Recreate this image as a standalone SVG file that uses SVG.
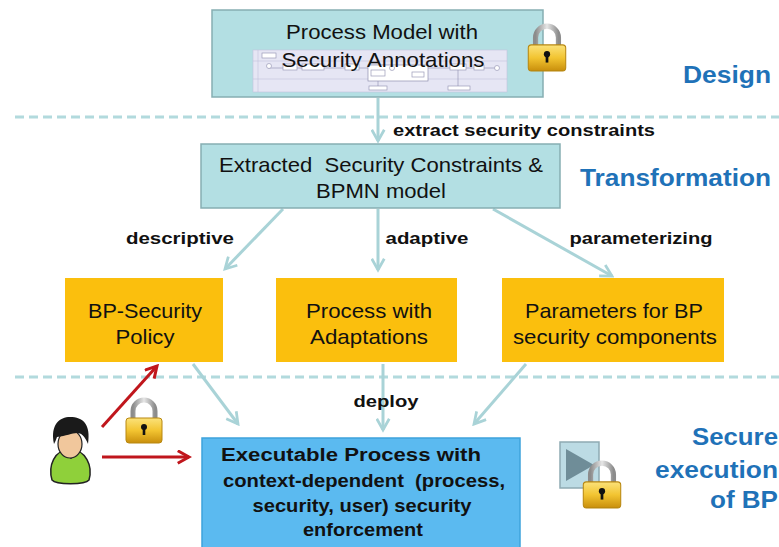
<svg xmlns="http://www.w3.org/2000/svg" xmlns:xlink="http://www.w3.org/1999/xlink" width="779" height="547" viewBox="0 0 779 547">
  <style>
    .teal { fill: #b3dfe3; stroke: #86aeb2; stroke-width: 1.5; }
    .orange { fill: #fbbf0d; }
    .exec { fill: #5bbaf0; stroke: #3ea3dc; stroke-width: 1.5; }
    .t { font-family: "Liberation Sans", Arial, sans-serif; fill: #111; text-anchor: middle; }
    .box { font-size: 21px; }
    .lbl { font-size: 16px; font-weight: bold; }
    .exe { font-size: 18px; font-weight: bold; }
    .phase { font-family: "Liberation Sans", Arial, sans-serif; font-size: 24px; font-weight: bold; fill: #1f72b8; text-anchor: end; }
    .dash { stroke: #b2dadd; stroke-width: 3; stroke-dasharray: 9 5; fill: none; }
    .flow { stroke: #a9d3d7; stroke-width: 3; fill: none; marker-end: url(#head); }
    .red { stroke: #c0161c; stroke-width: 3; fill: none; marker-end: url(#redhead); }
    .mini { fill: #fff; stroke: #9a9ab8; stroke-width: 0.7; }
  </style>
  <defs>
    <marker id="head" viewBox="0 0 12 12" refX="10" refY="6" markerWidth="5" markerHeight="5" orient="auto" markerUnits="strokeWidth">
      <polyline points="1,1 10,6 1,11" fill="none" stroke="#a9d3d7" stroke-width="2.2"/>
    </marker>
    <marker id="redhead" viewBox="0 0 12 12" refX="10" refY="6" markerWidth="5" markerHeight="5" orient="auto" markerUnits="strokeWidth">
      <polyline points="1,1 10,6 1,11" fill="none" stroke="#c0161c" stroke-width="2.4"/>
    </marker>
    <linearGradient id="gold" x1="0" y1="0" x2="0" y2="1">
      <stop offset="0" stop-color="#fbe27a"/>
      <stop offset="0.5" stop-color="#f2c431"/>
      <stop offset="1" stop-color="#c98f0c"/>
    </linearGradient>
    <linearGradient id="steel" x1="0" y1="0" x2="1" y2="0">
      <stop offset="0" stop-color="#8c8c8c"/>
      <stop offset="0.5" stop-color="#e6e6e6"/>
      <stop offset="1" stop-color="#8c8c8c"/>
    </linearGradient>
    <symbol id="lock" viewBox="0 0 40 50">
      <path d="M9,24 V15 A11,11 0 0 1 31,15 V24" fill="none" stroke="url(#steel)" stroke-width="5"/>
      <rect x="2" y="22" width="36" height="25" rx="3" fill="url(#gold)" stroke="#b88710" stroke-width="1"/>
      <circle cx="20" cy="31" r="3" fill="#111"/>
      <rect x="18.7" y="31" width="2.6" height="8" fill="#111"/>
    </symbol>
  </defs>

  <rect width="779" height="547" fill="#fff"/>

  <!-- phase separators -->
  <line class="dash" x1="15" y1="117" x2="779" y2="117"/>
  <line class="dash" x1="15" y1="377" x2="779" y2="377"/>

  <!-- phase titles -->
  <text class="phase" x="771" y="83" textLength="88" lengthAdjust="spacingAndGlyphs">Design</text>
  <text class="phase" x="771" y="186" textLength="191" lengthAdjust="spacingAndGlyphs">Transformation</text>
  <text class="phase" x="778" y="445" textLength="86" lengthAdjust="spacingAndGlyphs">Secure</text>
  <text class="phase" x="778" y="478" textLength="123" lengthAdjust="spacingAndGlyphs">execution</text>
  <text class="phase" x="778" y="508" textLength="68" lengthAdjust="spacingAndGlyphs">of BP</text>

  <!-- connectors -->
  <g id="connectors">
    <line class="flow" x1="378" y1="98" x2="378" y2="141"/>
    <line class="flow" x1="283" y1="209" x2="225" y2="269"/>
    <line class="flow" x1="378" y1="209" x2="378" y2="270"/>
    <line class="flow" x1="493" y1="209" x2="612" y2="276"/>
    <line class="flow" x1="193" y1="364" x2="238" y2="424"/>
    <line class="flow" x1="383" y1="364" x2="383" y2="430"/>
    <line class="flow" x1="526" y1="364" x2="474" y2="424"/>
    <line class="red" x1="102" y1="427" x2="157" y2="366"/>
    <line class="red" x1="102" y1="457" x2="189" y2="457"/>
    <text class="t lbl" x="524" y="136" textLength="262" lengthAdjust="spacingAndGlyphs">extract security constraints</text>
    <text class="t lbl" x="180" y="244" textLength="108" lengthAdjust="spacingAndGlyphs">descriptive</text>
    <text class="t lbl" x="427" y="244" textLength="83" lengthAdjust="spacingAndGlyphs">adaptive</text>
    <text class="t lbl" x="641" y="244" textLength="143" lengthAdjust="spacingAndGlyphs">parameterizing</text>
    <text class="t lbl" x="386" y="407" textLength="65" lengthAdjust="spacingAndGlyphs">deploy</text>
  </g>

  <!-- process model with embedded BPMN sketch -->
  <g id="process-model">
    <rect class="teal" x="212" y="10" width="331" height="87"/>
    <g id="bpmn-sketch">
      <rect x="253" y="50" width="254" height="42" fill="#e6e6f4" stroke="#c4c4dc" stroke-width="0.6"/>
      <line x1="253" y1="61" x2="507" y2="61" stroke="#c4c4dc" stroke-width="0.6"/>
      <line x1="253" y1="79" x2="507" y2="79" stroke="#c4c4dc" stroke-width="0.6"/>
      <line x1="258" y1="50" x2="258" y2="92" stroke="#c4c4dc" stroke-width="0.6"/>
      <line x1="268" y1="68" x2="498" y2="68" stroke="#8f8fae" stroke-width="0.6"/>
      <circle cx="269" cy="66" r="2.5" class="mini"/>
      <rect x="283" y="64" width="14" height="6" class="mini"/>
      <rect x="302" y="64" width="22" height="6" class="mini"/>
      <rect x="345" y="64" width="14" height="6" class="mini"/>
      <rect x="368" y="65" width="60" height="16" fill="#fff" stroke="#8f8fae" stroke-width="0.7"/>
      <rect x="371" y="70" width="14" height="6" class="mini"/>
      <circle cx="392" cy="68" r="2.5" class="mini"/>
      <rect x="412" y="72" width="12" height="5" class="mini"/>
      <rect x="450" y="64" width="16" height="6" class="mini"/>
      <rect x="474" y="65" width="10" height="5" class="mini"/>
      <circle cx="497" cy="68" r="2.5" class="mini"/>
      <rect x="369" y="86" width="18" height="4" class="mini"/>
      <rect x="448" y="86" width="22" height="4" class="mini"/>
      <line x1="378" y1="81" x2="378" y2="86" stroke="#8f8fae" stroke-width="0.6"/>
      <line x1="458" y1="70" x2="458" y2="86" stroke="#8f8fae" stroke-width="0.6"/>
      <rect x="262" y="53" width="14" height="5" class="mini"/>
    </g>
    <text class="t box" x="382" y="39" textLength="192" lengthAdjust="spacingAndGlyphs">Process Model with</text>
    <text class="t box" x="383" y="67" textLength="203" lengthAdjust="spacingAndGlyphs">Security Annotations</text>
    <use xlink:href="#lock" x="526" y="22" width="42" height="52"/>
  </g>

  <!-- extracted constraints -->
  <g id="extracted-constraints">
    <rect class="teal" x="201" y="144" width="359" height="64"/>
    <text class="t box" x="381" y="172" xml:space="preserve" textLength="324" lengthAdjust="spacingAndGlyphs">Extracted  Security Constraints &amp;</text>
    <text class="t box" x="381" y="198" textLength="130" lengthAdjust="spacingAndGlyphs">BPMN model</text>
  </g>

  <!-- derived artefacts -->
  <g id="bp-security-policy">
    <rect class="orange" x="65" y="278" width="158" height="84"/>
    <text class="t box" x="145" y="318" textLength="114" lengthAdjust="spacingAndGlyphs">BP-Security</text>
    <text class="t box" x="145" y="344" textLength="59" lengthAdjust="spacingAndGlyphs">Policy</text>
  </g>
  <g id="process-adaptations">
    <rect class="orange" x="276" y="278" width="181" height="84"/>
    <text class="t box" x="369" y="318" textLength="126" lengthAdjust="spacingAndGlyphs">Process with</text>
    <text class="t box" x="369" y="344" textLength="118" lengthAdjust="spacingAndGlyphs">Adaptations</text>
  </g>
  <g id="bp-parameters">
    <rect class="orange" x="502" y="278" width="222" height="84"/>
    <text class="t box" x="614" y="318" textLength="178" lengthAdjust="spacingAndGlyphs">Parameters for BP</text>
    <text class="t box" x="615" y="344" textLength="204" lengthAdjust="spacingAndGlyphs">security components</text>
  </g>

  <!-- executable process -->
  <g id="executable-process">
    <rect class="exec" x="202" y="438" width="318" height="112"/>
    <text class="t exe" x="351" y="461" textLength="260" lengthAdjust="spacingAndGlyphs">Executable Process with</text>
    <text class="t exe" x="364" y="487" xml:space="preserve" textLength="282" lengthAdjust="spacingAndGlyphs">context-dependent  (process,</text>
    <text class="t exe" x="362" y="512" textLength="219" lengthAdjust="spacingAndGlyphs">security, user) security</text>
    <text class="t exe" x="363" y="536" textLength="120" lengthAdjust="spacingAndGlyphs">enforcement</text>
  </g>

  <!-- user -->
  <g id="user">
    <path d="M52,480 C48,466 54,450 70,449 C86,450 93,466 89,480 C85,485 56,485 52,480 Z" fill="#8fd03a" stroke="#222" stroke-width="1.5"/>
    <path d="M63,450 L71,459 L79,450 Z" fill="#fff" stroke="#222" stroke-width="0.8"/>
    <ellipse cx="70" cy="444" rx="12" ry="14" fill="#f1c79c" stroke="#222" stroke-width="1.2"/>
    <path d="M54,444 C50,424 60,417 70,417 C83,417 91,424 88,444 C85,436 81,433 77,433 C72,433 66,436 57,437 C56,440 55,442 54,444 Z" fill="#1a1a1a"/>
  </g>
  <use xlink:href="#lock" x="124" y="396" width="40" height="50"/>

  <!-- execution icon -->
  <g id="execution-icon">
    <rect x="560" y="442" width="39" height="46" fill="#bcdbe4" stroke="#8eaab3" stroke-width="1.5"/>
    <polygon points="566,449 566,481 594,465" fill="#6f8d98"/>
    <use xlink:href="#lock" x="581" y="459" width="42" height="52"/>
  </g>
</svg>
